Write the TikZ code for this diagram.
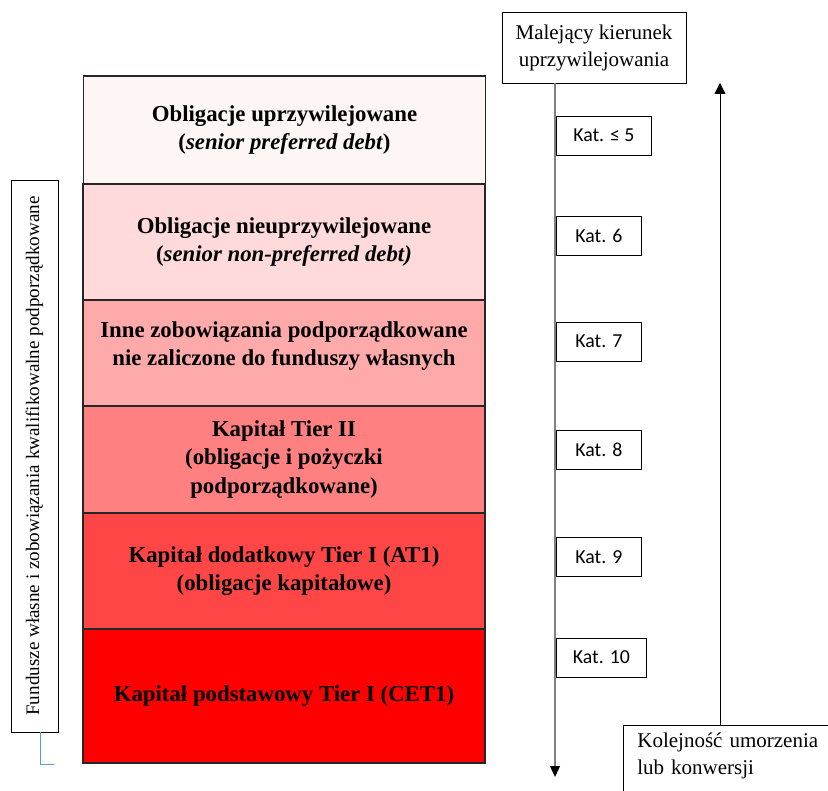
\documentclass[tikz,border=0pt]{standalone}
\usepackage{fontspec}
\setmainfont{Liberation Serif}
\newfontfamily\katfont{Carlito}
\usetikzlibrary{arrows.meta,positioning}
\definecolor{war1}{HTML}{FEF5F5}
\definecolor{war2}{HTML}{FFDADB}
\definecolor{war3}{HTML}{FFAAAA}
\definecolor{war4}{HTML}{FF8080}
\definecolor{war5}{HTML}{FF4646}
\definecolor{war6}{HTML}{FF0000}
\definecolor{niebieski}{HTML}{5B9BD5}
\tikzset{
	layer/.style={rectangle,draw=black!85,line width=1.1pt,minimum width=402pt,inner sep=0pt,align=center,font=\fontsize{22.8}{28.5}\selectfont\bfseries},
	katbox/.style={rectangle,draw,line width=0.8pt,anchor=west,minimum height=39pt,inner sep=0pt,font=\katfont\fontsize{19.8}{22}\selectfont},
	opis/.style={rectangle,draw,line width=0.8pt,fill=white,font=\fontsize{21}{27}\selectfont},
	szara/.style={-{Triangle[width=10pt,length=11pt,color=black]},draw=black!50,line width=1.4pt},
	czarna/.style={-{Triangle[width=11pt,length=11pt]},line width=0.8pt}
}
\begin{document}
\begin{tikzpicture}[x=1pt,y=-1pt]
	\useasboundingbox (0,0) rectangle (828,791);
	\clip (0,0) rectangle (828,791);

	%%%% warstwy
	\node[layer,fill=war1,minimum height=108pt] (l1) at (284.5,130) {Obligacje uprzywilejowane\\(\textit{senior preferred debt})};
	\node[layer,fill=war2,minimum height=116pt] (l2) at (284,242) {Obligacje nieuprzywilejowane\\(\textit{senior non-preferred debt)}};
	\node[layer,fill=war3,minimum height=106pt] (l3) at (284,353) {};
	\node[layer,draw=none] (t3) at ([yshift=7pt]l3.center) {Inne zobowiązania podporządkowane\\nie zaliczone do funduszy własnych};
	\node[layer,fill=war4,minimum height=107pt] (l4) at (284,459.5) {Kapitał Tier II\\(obligacje i pożyczki\\podporządkowane)};
	\node[layer,fill=war5,minimum height=116pt] (l5) at (284,571) {Kapitał dodatkowy Tier I (AT1)\\(obligacje kapitałowe)};
	\node[layer,fill=war6,minimum height=134pt] (l6) at (284,696) {Kapitał podstawowy Tier I (CET1)};

	%%%% lewy opis
	\node[opis,rotate=90,minimum width=552pt,minimum height=47pt,inner sep=0pt,font=\fontsize{19.1}{22}\selectfont] (fund) at (34.5,456) {Fundusze własne i zobowiązania kwalifikowalne podporządkowane};
	\coordinate (nieb) at (54,764);
	\draw[niebieski,line width=0.8pt] (fund.west -| 40,0) |- (nieb);

	%%%% kierunek uprzywilejowania
	\node[opis,minimum width=184pt,minimum height=71pt,inner sep=0pt,align=center] (mal) at (594,47.5) {Malejący kierunek\\uprzywilejowania};
	\coordinate (dol) at (555,777);
	\draw[szara] (mal.south -| dol) -- (dol);

	%%%% kategorie
	\node[katbox,minimum width=95pt] (k5) at (556,135.5) {Kat. ≤ 5};
	\node[katbox,minimum width=85pt] (k6) at (556,236) {Kat. 6};
	\node[katbox,minimum width=85pt] (k7) at (556,341.5) {Kat. 7};
	\node[katbox,minimum width=85pt] (k8) at (556,450) {Kat. 8};
	\node[katbox,minimum width=85pt] (k9) at (556,557) {Kat. 9};
	\node[katbox,minimum width=90pt] (k10) at (556,657.5) {Kat. 10};

	%%%% kolejnosc umorzenia
	\node[opis,anchor=north west,align=left,text width=230pt,inner xsep=14pt,inner ysep=7pt,text depth=60pt] (kol) at (623,725) {Kolejność umorzenia\\lub konwersji};
	\coordinate (gora) at (720,83);
	\draw[czarna] (kol.north -| gora) -- (gora);
\end{tikzpicture}
\end{document}
